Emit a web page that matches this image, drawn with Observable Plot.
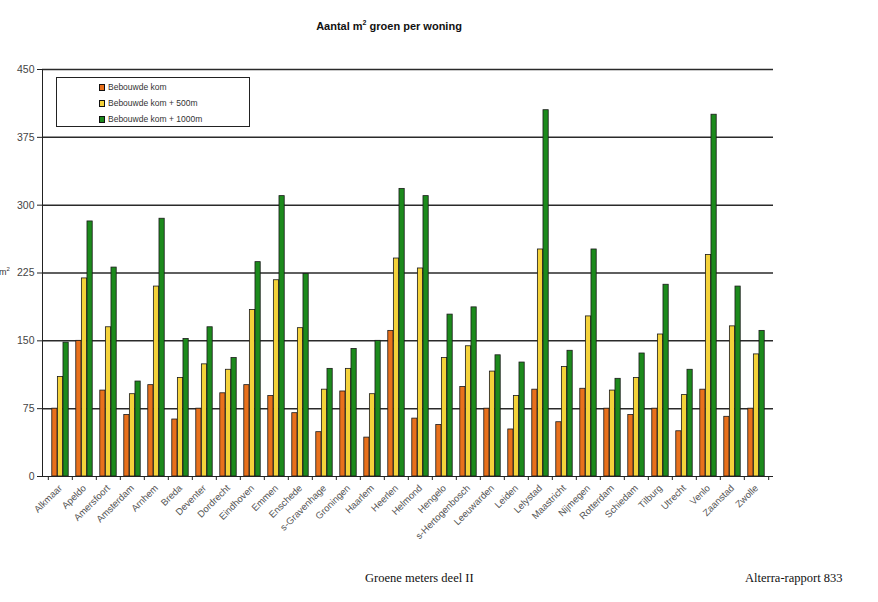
<!DOCTYPE html>
<html>
<head>
<meta charset="utf-8">
<script src="https://cdn.jsdelivr.net/npm/d3@7"></script>
<script src="https://cdn.jsdelivr.net/npm/@observablehq/plot@0.6"></script>
<style>
  html, body { margin: 0; padding: 0; background: white; }
  body { width: 878px; height: 602px; position: relative; overflow: hidden; font-family: "Liberation Sans", Arial, sans-serif; }
  #chart { position: absolute; left: 0; top: 0; }
  .abs { position: absolute; white-space: nowrap; }
  #title { left: 0; width: 778px; top: 19px; text-align: center; font-weight: bold; font-size: 11px; color: #111; }
  #legend { left: 56px; top: 77px; width: 192px; height: 48px; border: 1px solid #222; background: white; }
  .item { position: absolute; left: 42px; font-size: 8.5px; color: #333; line-height: 10px; }
  .sw { display: inline-block; width: 4px; height: 5px; border: 1px solid #111; margin-right: 3px; vertical-align: -1px; }
  .foot { font-family: "Liberation Serif", "Times New Roman", serif; font-size: 12.5px; color: #111; top: 571px; }
  #ylab { left: -1px; top: 266px; font-size: 9px; color: #333; }
</style>
</head>
<body>
<div id="chart"></div>
<div id="title" class="abs">Aantal m<sup style="font-size:7px">2</sup> groen per woning</div>
<div id="ylab" class="abs">m<sup style="font-size:6px">2</sup></div>
<div id="legend" class="abs"></div>
<div class="abs foot" style="left:365px">Groene meters deel II</div>
<div class="abs foot" style="left:745px">Alterra-rapport 833</div>
<script>
const cities = ["Alkmaar","Apeldo","Amersfoort","Amsterdam","Arnhem","Breda","Deventer","Dordrecht","Eindhoven","Emmen","Enschede","s-Gravenhage","Groningen","Haarlem","Heerlen","Helmond","Hengelo","s-Hertogenbosch","Leeuwarden","Leiden","Lelystad","Maastricht","Nijmegen","Rotterdam","Schiedam","Tilburg","Utrecht","Venlo","Zaanstad","Zwolle"];
const seriesNames = ["Bebouwde kom","Bebouwde kom + 500m","Bebouwde kom + 1000m"];
const bebouwdeKom = [75,150,95,68,101,63,75,92,101,89,70,49,94,43,161,64,57,99,75,52,96,60,97,75,68,75,50,96,66,75];
const plus500m   = [110,219,165,91,210,109,124,118,184,217,164,96,119,91,241,230,131,144,116,89,251,121,177,95,109,157,90,245,166,135];
const plus1000m  = [148,282,231,105,285,152,165,131,237,310,224,119,141,150,318,310,179,187,134,126,405,139,251,108,136,212,118,400,210,161];
const yTicks = [0,75,150,225,300,375,450];
const colors = ["#E8701C","#F4D23A","#1C8A1C"];

const seriesValues = [bebouwdeKom, plus500m, plus1000m];
const rows = [];
seriesValues.forEach((vals, si) => vals.forEach((v, ci) => rows.push({city: cities[ci], series: seriesNames[si], value: v})));

const W = 878, H = 602, mL = 42, mR = 105, mT = 69, mB = 126;
const bw = (W - mL - mR) / cities.length;
const barW = 5.6;
const inset = (bw - barW) / 2;

const bars = seriesNames.map((s, i) => Plot.barY(rows.filter(d => d.series === s), {
  x: "city", y: "value", fill: colors[i], stroke: "#1a1a1a", strokeWidth: 0.8,
  insetLeft: inset, insetRight: inset, dx: (i - 1) * barW
}));

const chart = Plot.plot({
  width: W, height: H,
  marginLeft: mL, marginRight: mR, marginTop: mT, marginBottom: mB,
  style: {fontFamily: "'Liberation Sans', Arial, sans-serif", background: "white", color: "#444"},
  x: {domain: cities, padding: 0, axis: null},
  y: {domain: [0, 450], axis: null},
  marks: [
    Plot.ruleY(yTicks.filter(d => d > 0), {stroke: "#2a2a2a", strokeWidth: 1.5}),
    ...bars,
    Plot.ruleY([0], {stroke: "#222", strokeWidth: 1}),
    Plot.frame({anchor: "left", stroke: "#222"}),
    Plot.axisY(yTicks, {tickSize: 5, tickPadding: 3, fontSize: 10.5, label: null, stroke: "#222", fill: "#444"}),
    Plot.axisX({tickSize: 0, tickRotate: -45, tickPadding: 10, fontSize: 9.5, label: null, fill: "#555"}),
    Plot.axisX({tickSize: 4, tickFormat: () => "", label: null, dx: -bw / 2, stroke: "#222"}),
    Plot.axisX([cities[cities.length - 1]], {tickSize: 4, tickFormat: () => "", label: null, dx: bw / 2, stroke: "#222"})
  ]
});
document.getElementById("chart").appendChild(chart);

const legend = document.getElementById("legend");
seriesNames.forEach((s, i) => {
  const el = document.createElement("div");
  el.className = "item";
  el.style.top = (4 + i * 16) + "px";
  el.innerHTML = `<span class="sw" style="background:${colors[i]}"></span>${s}`;
  legend.appendChild(el);
});
</script>
</body>
</html>
